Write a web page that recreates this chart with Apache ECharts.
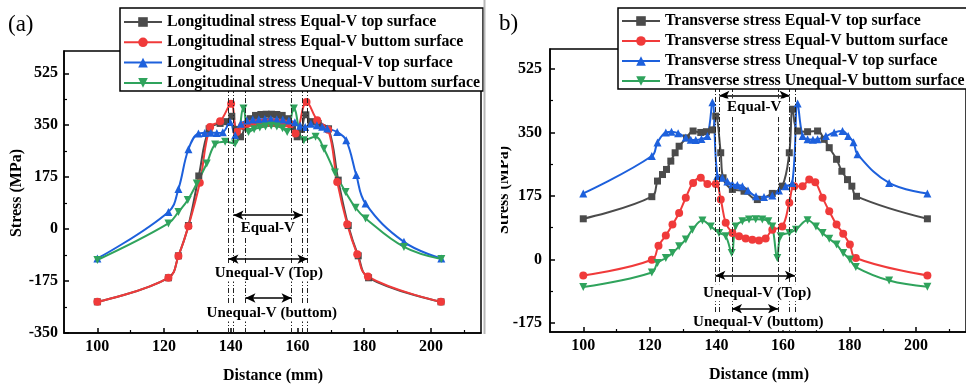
<!DOCTYPE html>
<html>
<head>
<meta charset="utf-8">
<script src="https://cdn.jsdelivr.net/npm/echarts@6/dist/echarts.min.js"></script>
<style>html,body{margin:0;padding:0;background:#fff}#c{width:966px;height:389px}</style>
</head>
<body>
<div id="c"></div>
<script>
// ---------- DATA ----------
// Left panel (a): longitudinal stress
const namesL = ['Longitudinal stress Equal-V top surface','Longitudinal stress Equal-V buttom surface','Longitudinal stress Unequal-V top surface','Longitudinal stress Unequal-V buttom surface'];
const grayLx = [100,121.3,124.3,127.3,130.4,133.5,136.8,138.8,140.3,141.6,142.9,144.3,145.8,147.4,149,150.6,152.2,153.8,155.4,157,158.5,159.9,161.2,162.5,164,166.2,169.3,172.2,175.2,178.2,181.3,203];
const grayLy = [-245,-164,-90,12,179,338,356,362,380,336,311,345,372,383,386,387,387,386,383,372,345,311,336,385,362,356,338,165,12,-90,-164,-245];
const redLx = [100,121.3,124.3,127.3,130.7,133.8,136.8,140.1,141.8,143.4,145,146.6,148.2,149.8,151.4,153,154.6,156.2,157.8,159.4,162.7,165.9,169.2,171.9,174.9,177.9,181.1,203];
const redLy = [-245,-164,-91,10,156,344,363,422,327,348,355,357,358,359,359,359,358,356,352,322,428,367,335,159,16,-85,-160,-245];
const blueLx = [100,121.3,124.3,127.3,130.3,132.2,134,135.8,137.6,139.8,141.3,143,144.8,146.6,148.4,150.2,152,153.8,155.6,157.4,159.2,160.8,162.3,164,165.8,167.4,168.9,171.9,174.6,177.6,180.4,191.9,203.1];
const blueLy = [-99,58,135,269,322,324,325,324,326,361,316,355,366,369,370,371,371,370,369,366,360,348,344,355,350,345,339,327,299,182,86,-43,-99];
const greenLx = [100,121.3,124.3,127.1,129.8,132.8,135.3,138.3,141.3,143.8,145.3,147,148.7,150.4,152.1,153.8,155.5,156.9,158.9,161.9,165.4,167.9,171.2,174.4,177.4,180.4,191.9,203.1];
const greenLy = [-104,19,58,98,154,221,285,294,288,406,327,336,342,346,348,346,340,327,406,299,311,271,191,125,72,36,-60,-101];

// Right panel (b): transverse stress
const namesR = ['Transverse stress Equal-V top surface','Transverse stress Equal-V buttom surface','Transverse stress Unequal-V top surface','Transverse stress Unequal-V buttom surface'];
const grayRx = [100,120.6,122.3,123.8,125,126.3,127.6,128.8,131,133,135.3,137,138.8,139.8,141.3,142,144.8,148.3,152.3,156.8,159.8,161.9,162.9,164.4,167.4,170.4,172.4,173.9,176.1,177.7,179.4,180.7,182.1,203.4];
const grayRy = [112,173,216,234,248,271,294,312,335,354,350,352,357,395,294,225,193,188,165,182,202,294,414,354,352,354,331,308,276,243,220,202,174,112];
const redRx = [100,120.6,122.6,124.8,126.8,128.8,130.8,133,135.3,137.3,139.8,141.3,142.8,144.8,146.8,148.8,150.8,152.8,154.8,156.8,159.8,161.9,163.4,165.9,167.9,169.7,171.9,173.9,176.1,178.1,180.1,181.9,203.4];
const redRy = [-44,-1,38,66,96,128,170,211,225,208,208,165,101,73,64,58,54,52,58,82,91,156,202,202,220,213,170,133,96,71,41,4,-44];
const blueRx = [100,120.6,122.3,124.8,126.5,128.5,130.8,132.3,133.8,135.5,137.3,138.8,140.3,141.8,143.3,144.8,146.3,147.8,149.5,151.9,154.3,156.8,158.8,160.8,162.8,164.4,165.9,167.4,169,170.4,172.9,175.4,177.9,179.6,181.2,182.4,191.9,203.4];
const blueRy = [182,285,322,350,352,348,336,330,329,332,340,433,230,225,215,207,205,202,190,174,172,176,190,202,211,430,340,331,330,331,340,350,354,340,323,290,211,182];
const greenRx = [100,120.6,122.3,124.8,126.8,128.8,130.8,132.8,135.8,138.3,140.8,142.8,144.6,145.8,147.8,149.8,151.8,153.8,155.6,156.8,158.3,159.3,161.9,163.9,167.4,169.9,171.9,173.9,176.1,178.1,180.1,181.9,191.9,203.4];
const greenRy = [-76,-36,-10,4,18,36,55,82,107,91,73,64,18,91,105,110,111,110,105,91,4,64,73,82,108,91,73,57,41,18,0,-21,-58,-75];

// Axis ticks
const xMajor = [100,120,140,160,180,200];
const xMinor = [110,130,150,170,190,210];
const yMajorL = [-350,-175,0,175,350,525];
const yMinorL = [-262.5,-87.5,87.5,262.5,437.5];
const yMajorR = [-175,0,175,350,525];
const yMinorR = [-87.5,87.5,262.5,437.5];

// Annotations (region boundaries, arrows, labels)
const vLinesL = [139.3,140.8,144.4,158.2,161.5,163.0];
const arrowsL = [[140.8,161.5,47],[139.3,163.0,-101],[144.4,158.2,-232]];
const textsL = [['Equal-V',151.1,3],['Unequal-V (Top)',151.4,-148],['Unequal-V (buttom)',152.3,-283]];
const vLinesR = [139.7,140.9,144.7,158.5,162.0,163.6];
const arrowsR = [[140.9,162.0,452],[139.7,163.6,-44],[144.7,158.5,-136]];
const textsR = [['Equal-V',151.35,420],['Unequal-V (Top)',152.25,-92],['Unequal-V (buttom)',152.6,-172]];

// ---------- CHART ----------
const font = "'Liberation Serif','Times New Roman',serif";
const colors = ['#4b4b4b','#f03a3a','#1d60dc','#2fa35c'];
const symbols = ['rect','circle','triangle','triangle'];
const rot = [0,0,0,180];
const zip = (xs, ys) => xs.map((x,i)=>[x, ys[i]]);

function mainAxis(g, min, max, major, margin) {
  return {type:'value', gridIndex:g, min:min, max:max,
    axisLine:{show:true, onZero:false, lineStyle:{color:'#000', width:1.5}},
    axisTick:{show:true, inside:true, length:5, customValues:major, lineStyle:{color:'#000', width:1.5}},
    axisLabel:{customValues:major, margin:margin, color:'#000', fontFamily:font, fontWeight:'bold', fontSize:16},
    splitLine:{show:false}};
}
function minorAxis(g, min, max, minor, pos) {
  return {type:'value', gridIndex:g, min:min, max:max, position:pos,
    axisLine:{show:false, onZero:false},
    axisTick:{show:true, inside:true, length:3, customValues:minor, lineStyle:{color:'#000', width:1.2}},
    axisLabel:{show:false}, splitLine:{show:false}};
}

function dataSeries(names, xsArr, ysArr, axIdx) {
  return names.map((n,i)=>({
    name:n, type:'line', xAxisIndex:axIdx, yAxisIndex:axIdx,
    data: zip(xsArr[i], ysArr[i]), smooth:0.4,
    symbol:symbols[i], symbolRotate:rot[i], symbolSize: i===0?7:8,
    lineStyle:{width:2, color:colors[i]}, itemStyle:{color:colors[i]},
    z: 3
  }));
}
function annoSeries(vLines, arrows, texts, axIdx) {
  return [{
    type:'line', xAxisIndex:axIdx, yAxisIndex:axIdx, data:[], silent:true, z:1,
    markLine:{silent:true, symbol:['none','none'], label:{show:false}, animation:false,
      lineStyle:{color:'#222', width:1, type:[5,2,1,2]},
      data: vLines.map(v=>({xAxis:v}))}
  },{
    type:'line', xAxisIndex:axIdx, yAxisIndex:axIdx, data:[], silent:true, z:4,
    markLine:{silent:true, symbol:['arrow','arrow'], symbolSize:[7,10], label:{show:false}, animation:false,
      lineStyle:{color:'#000', width:1.5, type:'solid'},
      data: arrows.map(a=>[{coord:[a[0],a[2]]},{coord:[a[1],a[2]]}])},
    markPoint:{silent:true, animation:false, symbol:'circle', symbolSize:1, itemStyle:{color:'rgba(0,0,0,0)'},
      label:{show:true, position:'inside', formatter:p=>p.name, color:'#000', fontFamily:font, fontWeight:'bold', fontSize:15,
        backgroundColor:'#fff', padding:[1,2]},
      data: texts.map(t=>({name:t[0], coord:[t[1],t[2]]}))}
  }];
}

const legendCommon = {orient:'vertical', itemWidth:38, itemHeight:12,
  backgroundColor:'#fff', borderColor:'#000', borderWidth:1.5, z:20,
  textStyle:{color:'#000', fontFamily:font, fontWeight:'bold', fontSize:15.8, lineHeight:16}};

const chart = echarts.init(document.getElementById('c'), null, {renderer:'canvas'});
chart.setOption({
  animation:false,
  backgroundColor:'#fff',
  grid:[
    {left:64, right:485, top:51, bottom:56, show:true, borderColor:'#000', borderWidth:1.5},
    {left:550, right:-1, top:49, bottom:57, show:true, borderColor:'#000', borderWidth:1.5}
  ],
  xAxis:[ mainAxis(0,90,215,xMajor,6), minorAxis(0,90,215,xMinor,'bottom'),
          mainAxis(1,90,215,xMajor,6), minorAxis(1,90,215,xMinor,'bottom') ],
  yAxis:[ mainAxis(0,-350,600,yMajorL,6), minorAxis(0,-350,600,yMinorL,'left'),
          mainAxis(1,-200,580,yMajorR,8), minorAxis(1,-200,580,yMinorR,'left') ],
  legend:[
    Object.assign({left:120, top:8, padding:[6,3,0,3], itemGap:4.3, data:namesL}, legendCommon),
    Object.assign({left:618, top:8, padding:[5,3,0,3], itemGap:4, data:namesR}, legendCommon)
  ],
  series:[].concat(
    annoSeries(vLinesL, arrowsL, textsL, 0),
    dataSeries(namesL, [grayLx,redLx,blueLx,greenLx], [grayLy,redLy,blueLy,greenLy], 0),
    annoSeries(vLinesR, arrowsR, textsR, 2),
    dataSeries(namesR, [grayRx,redRx,blueRx,greenRx], [grayRy,redRy,blueRy,greenRy], 2)
  ),
  graphic:[
    {type:'text', left:8, top:13, style:{text:'(a)', font:"23px 'Liberation Serif'", fill:'#000'}},
    {type:'text', left:499, top:12, style:{text:'b)', font:"23px 'Liberation Serif'", fill:'#000'}},
    {type:'text', x:17, y:193, rotation:Math.PI/2, style:{text:'Stress (MPa)', font:"bold 16px 'Liberation Serif'", fill:'#000', align:'center', verticalAlign:'middle'}},
    {type:'text', x:504, y:190, rotation:Math.PI/2, style:{text:'Stress (MPa)', font:"bold 16px 'Liberation Serif'", fill:'#000', align:'center', verticalAlign:'middle'}},
    {type:'rect', shape:{x:486, y:120, width:15, height:150}, style:{fill:'#fff'}, z:50},
    {type:'line', shape:{x1:484.5, y1:0, x2:484.5, y2:334}, style:{stroke:'#b8b8b8', lineWidth:2}, z:51},
    {type:'text', x:273, y:376, style:{text:'Distance (mm)', font:"bold 16px 'Liberation Serif'", fill:'#000', align:'center', verticalAlign:'middle'}},
    {type:'text', x:759, y:375, style:{text:'Distance (mm)', font:"bold 16px 'Liberation Serif'", fill:'#000', align:'center', verticalAlign:'middle'}}
  ]
});
</script>
</body>
</html>
